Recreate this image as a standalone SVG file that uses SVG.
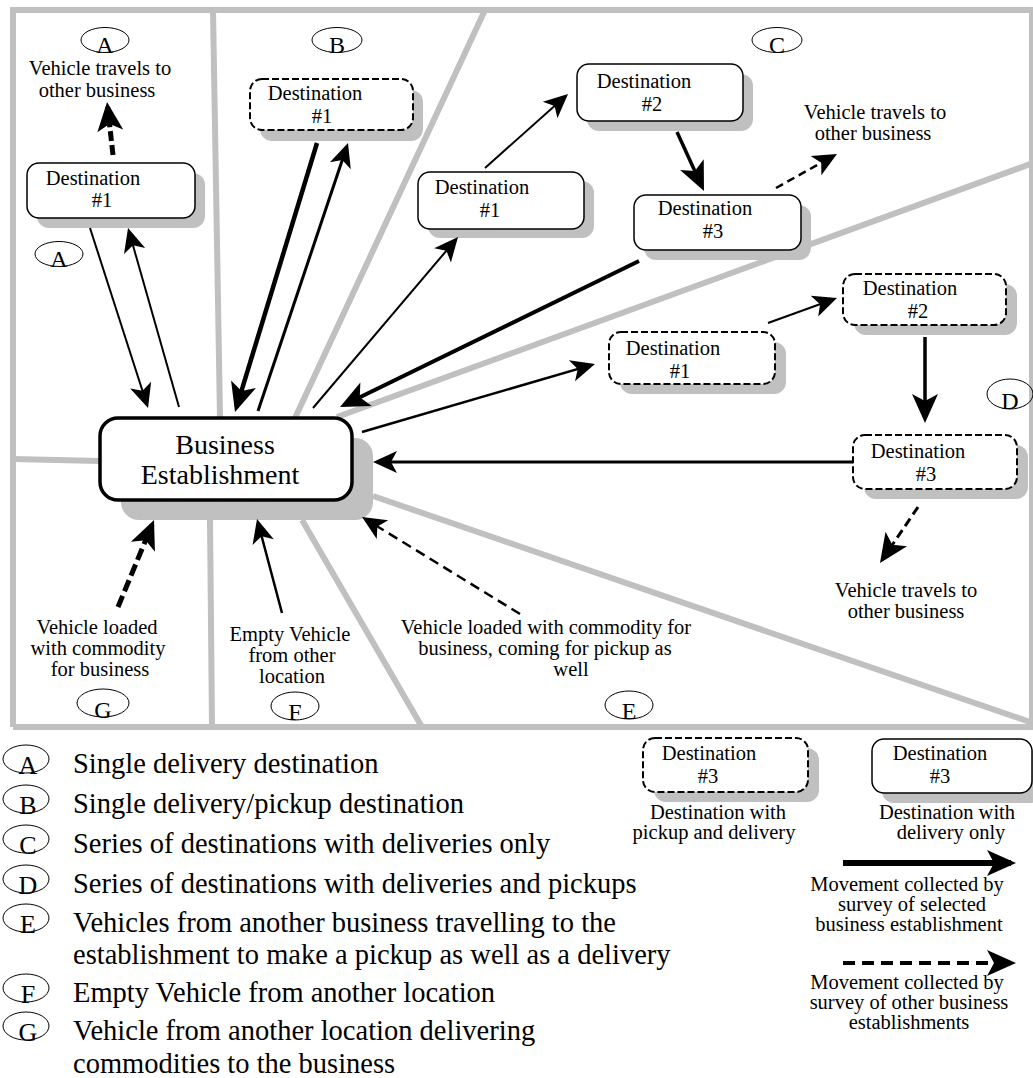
<svg xmlns="http://www.w3.org/2000/svg" width="1033" height="1078" viewBox="0 0 1033 1078">
<style>
.sep{stroke:#c0c0c0;stroke-width:6;fill:none}
.sh{fill:#c0c0c0}
.bx{fill:#fff;stroke:#000;stroke-width:1.5}
.bxd{fill:#fff;stroke:#000;stroke-width:2;stroke-dasharray:7 3}
text{font-family:"Liberation Serif","Times New Roman",serif;fill:#000}
.t{font-size:20.5px;text-anchor:middle}
.tb{font-size:28px;text-anchor:middle}
.lg{font-size:28.5px}
.el{fill:none;stroke:#000;stroke-width:1}
.lt{font-size:24px;text-anchor:middle}
.lk{font-size:26px;text-anchor:middle}
.a{fill:none;stroke:#000}
</style>
<defs>
<marker id="ah" markerUnits="userSpaceOnUse" viewBox="-20 -12 26 24" markerWidth="26" markerHeight="24" refX="0" refY="0" orient="auto">
<path d="M5,0 L-19,-11 L-13,0 L-19,11 Z" fill="#000"/>
</marker>
<marker id="ahL" markerUnits="userSpaceOnUse" viewBox="-26 -14 32 28" markerWidth="32" markerHeight="28" refX="0" refY="0" orient="auto">
<path d="M5,0 L-24,-13 L-17,0 L-24,13 Z" fill="#000"/>
</marker>
</defs>
<rect width="1033" height="1078" fill="#fff"/>

<g id="frame">
<path class="sep" d="M10,10 H1033 M13,10 V727 M13,727 H1033"/>
<path class="sep" stroke-width="4" d="M1032,10 V727"/>
<path class="sep" d="M213,10 L220,418 M13,459 L100,461 M485,10 L295,418 M1033,163 L337,417 M373,496 L1030,722 M302,520 L422,727 M210,520 L212,727"/>
</g>

<g id="business">
<rect class="sh" x="121" y="438" width="252" height="82" rx="18"/>
<rect x="100" y="418" width="252" height="82" rx="18" fill="#fff" stroke="#000" stroke-width="3.5"/>
<text class="tb" x="225" y="454">Business</text>
<text class="tb" x="220" y="484">Establishment</text>
</g>

<g id="destA">
<rect class="sh" x="37" y="173" width="168" height="55" rx="12"/>
<rect class="bx" x="27" y="163" width="168" height="55" rx="12"/>
<text class="t" x="93" y="185">Destination</text>
<text class="t" x="102" y="207">#1</text>
</g>
<g id="destB">
<rect class="sh" x="260" y="90" width="163" height="51" rx="12"/>
<rect class="bxd" x="250" y="79" width="163" height="51" rx="12"/>
<text class="t" x="315" y="100">Destination</text>
<text class="t" x="322" y="123">#1</text>
</g>
<g id="destC1">
<rect class="sh" x="428" y="181" width="166" height="57" rx="12"/>
<rect class="bx" x="418" y="172" width="166" height="57" rx="12"/>
<text class="t" x="482" y="194">Destination</text>
<text class="t" x="490" y="217">#1</text>
</g>
<g id="destC2">
<rect class="sh" x="587" y="74" width="166" height="57" rx="12"/>
<rect class="bx" x="577" y="64" width="166" height="57" rx="12"/>
<text class="t" x="644" y="88">Destination</text>
<text class="t" x="652" y="111">#2</text>
</g>
<g id="destC3">
<rect class="sh" x="644" y="205" width="167" height="55" rx="12"/>
<rect class="bx" x="634" y="195" width="167" height="55" rx="12"/>
<text class="t" x="705" y="215">Destination</text>
<text class="t" x="713" y="238">#3</text>
</g>
<g id="destD1">
<rect class="sh" x="620" y="342" width="166" height="52" rx="12"/>
<rect class="bxd" x="609" y="332" width="166" height="52" rx="12"/>
<text class="t" x="673" y="355">Destination</text>
<text class="t" x="680" y="378">#1</text>
</g>
<g id="destD2">
<rect class="sh" x="854" y="284" width="163" height="51" rx="12"/>
<rect class="bxd" x="843" y="274" width="163" height="51" rx="12"/>
<text class="t" x="910" y="295">Destination</text>
<text class="t" x="918" y="318">#2</text>
</g>
<g id="destD3">
<rect class="sh" x="864" y="445" width="164" height="54" rx="12"/>
<rect class="bxd" x="853" y="435" width="164" height="54" rx="12"/>
<text class="t" x="918" y="458">Destination</text>
<text class="t" x="926" y="481">#3</text>
</g>

<g id="labels">
<text class="t" x="100" y="75">Vehicle travels to</text>
<text class="t" x="97" y="97">other business</text>
<text class="t" x="875" y="119">Vehicle travels to</text>
<text class="t" x="873" y="140">other business</text>
<text class="t" x="906" y="597">Vehicle travels to</text>
<text class="t" x="906" y="618">other business</text>
<text class="t" x="97" y="634">Vehicle loaded</text>
<text class="t" x="98" y="655">with commodity</text>
<text class="t" x="100" y="676">for business</text>
<text class="t" x="290" y="641">Empty Vehicle</text>
<text class="t" x="292" y="662">from other</text>
<text class="t" x="292" y="683">location</text>
<text class="t" x="546" y="634">Vehicle loaded with commodity for</text>
<text class="t" x="545" y="655">business, coming for pickup as</text>
<text class="t" x="571" y="676">well</text>
</g>

<g id="tags">
<ellipse class="el" cx="105" cy="40" rx="24" ry="12.5"/><text class="lt" x="105" y="53">A</text>
<ellipse class="el" cx="337" cy="40" rx="25" ry="12.5"/><text class="lt" x="337" y="53">B</text>
<ellipse class="el" cx="777" cy="40" rx="25" ry="12.5"/><text class="lt" x="777" y="53">C</text>
<ellipse class="el" cx="59" cy="254" rx="24" ry="12.5"/><text class="lt" x="59" y="267">A</text>
<ellipse class="el" cx="1010" cy="394" rx="23" ry="15"/><text class="lt" x="1010" y="409">D</text>
<ellipse class="el" cx="629" cy="705" rx="24" ry="14"/><text class="lt" x="629" y="719">E</text>
<ellipse class="el" cx="295" cy="706" rx="24" ry="14"/><text class="lt" x="295" y="720">F</text>
<ellipse class="el" cx="103" cy="703" rx="26" ry="14"/><text class="lt" x="103" y="718">G</text>
</g>

<g id="connectors">
<line class="a" stroke-width="2" x1="90" y1="228" x2="146.5" y2="403.2" marker-end="url(#ah)"/>
<line class="a" stroke-width="2" x1="179" y1="407" x2="129.4" y2="232.8" marker-end="url(#ah)"/>
<line class="a" stroke-width="5" stroke-dasharray="10 4" x1="113" y1="155" x2="107.6" y2="107" marker-end="url(#ahL)"/>
<line class="a" stroke-width="4.5" x1="317" y1="143" x2="236.5" y2="407.2" marker-end="url(#ahL)"/>
<line class="a" stroke-width="3" x1="258" y1="411" x2="346.4" y2="147.7" marker-end="url(#ah)"/>
<line class="a" stroke-width="2" x1="313" y1="408" x2="454.8" y2="240.8" marker-end="url(#ah)"/>
<line class="a" stroke-width="2" x1="485" y1="168" x2="564.3" y2="97.3" marker-end="url(#ah)"/>
<line class="a" stroke-width="3.5" x1="677" y1="132" x2="701.9" y2="186.5" marker-end="url(#ahL)"/>
<line class="a" stroke-width="2.5" stroke-dasharray="8 5" x1="776" y1="188" x2="832.6" y2="156.4" marker-end="url(#ah)"/>
<line class="a" stroke-width="4" x1="639" y1="261" x2="344.5" y2="404.8" marker-end="url(#ahL)"/>
<line class="a" stroke-width="2.5" x1="362" y1="432" x2="590.2" y2="365.4" marker-end="url(#ah)"/>
<line class="a" stroke-width="2" x1="768" y1="323" x2="832.3" y2="299.7" marker-end="url(#ah)"/>
<line class="a" stroke-width="3.5" x1="925" y1="337" x2="925" y2="418" marker-end="url(#ahL)"/>
<line class="a" stroke-width="3" x1="853" y1="462" x2="378" y2="462" marker-end="url(#ah)"/>
<line class="a" stroke-width="3" stroke-dasharray="9 5" x1="918" y1="507" x2="882.8" y2="558.9" marker-end="url(#ahL)"/>
<line class="a" stroke-width="2.5" stroke-dasharray="10 6" x1="520" y1="614" x2="366.3" y2="519.6" marker-end="url(#ah)"/>
<line class="a" stroke-width="2.5" x1="282" y1="613" x2="258.3" y2="523.8" marker-end="url(#ah)"/>
<line class="a" stroke-width="5" stroke-dasharray="12 5" x1="118" y1="607" x2="152.1" y2="524.6" marker-end="url(#ahL)"/>
</g>

<g id="legend-keys">
<g id="key-pd">
<rect class="sh" x="654" y="748" width="165" height="54" rx="12"/>
<rect class="bxd" x="643" y="738" width="165" height="54" rx="12"/>
<text class="t" x="709" y="760">Destination</text>
<text class="t" x="708" y="783">#3</text>
<text class="t" x="718" y="819">Destination with</text>
<text class="t" x="714" y="839">pickup and delivery</text>
</g>
<g id="key-d">
<rect class="sh" x="882" y="749" width="160" height="54" rx="12"/>
<rect class="bx" x="872" y="739" width="160" height="54" rx="12"/>
<text class="t" x="940" y="760">Destination</text>
<text class="t" x="940" y="783">#3</text>
<text class="t" x="947" y="819">Destination with</text>
<text class="t" x="951" y="839">delivery only</text>
</g>
<g id="key-solid">
<line class="a" stroke-width="6" x1="843" y1="863" x2="1011" y2="863" marker-end="url(#ahL)"/>
<text class="t" x="907" y="891">Movement collected by</text>
<text class="t" x="912" y="911">survey of selected</text>
<text class="t" x="909" y="931">business establishment</text>
</g>
<g id="key-dashed">
<line class="a" stroke-width="4" stroke-dasharray="12 7" x1="843" y1="963" x2="1011" y2="963" marker-end="url(#ahL)"/>
<text class="t" x="907" y="989">Movement collected by</text>
<text class="t" x="909" y="1009">survey of other business</text>
<text class="t" x="909" y="1029">establishments</text>
</g>
</g>

<g id="legend-list">
<ellipse class="el" cx="26" cy="759" rx="23" ry="14"/><text class="lk" x="28" y="774">A</text>
<text class="lg" x="73" y="773">Single delivery destination</text>
<ellipse class="el" cx="26" cy="799" rx="23" ry="14"/><text class="lk" x="28" y="814">B</text>
<text class="lg" x="73" y="813">Single delivery/pickup destination</text>
<ellipse class="el" cx="26" cy="839" rx="23" ry="14"/><text class="lk" x="28" y="854">C</text>
<text class="lg" x="73" y="853">Series of destinations with deliveries only</text>
<ellipse class="el" cx="26" cy="879" rx="23" ry="14"/><text class="lk" x="28" y="894">D</text>
<text class="lg" x="73" y="893">Series of destinations with deliveries and pickups</text>
<ellipse class="el" cx="26" cy="918" rx="23" ry="14"/><text class="lk" x="28" y="933">E</text>
<text class="lg" x="73" y="932">Vehicles from another business travelling to the</text>
<text class="lg" x="73" y="964">establishment to make a pickup as well as a delivery</text>
<ellipse class="el" cx="26" cy="988" rx="23" ry="14"/><text class="lk" x="28" y="1003">F</text>
<text class="lg" x="73" y="1002">Empty Vehicle from another location</text>
<ellipse class="el" cx="26" cy="1026" rx="23" ry="14"/><text class="lk" x="28" y="1041">G</text>
<text class="lg" x="73" y="1040">Vehicle from another location delivering</text>
<text class="lg" x="73" y="1073">commodities to the business</text>
</g>
</svg>
